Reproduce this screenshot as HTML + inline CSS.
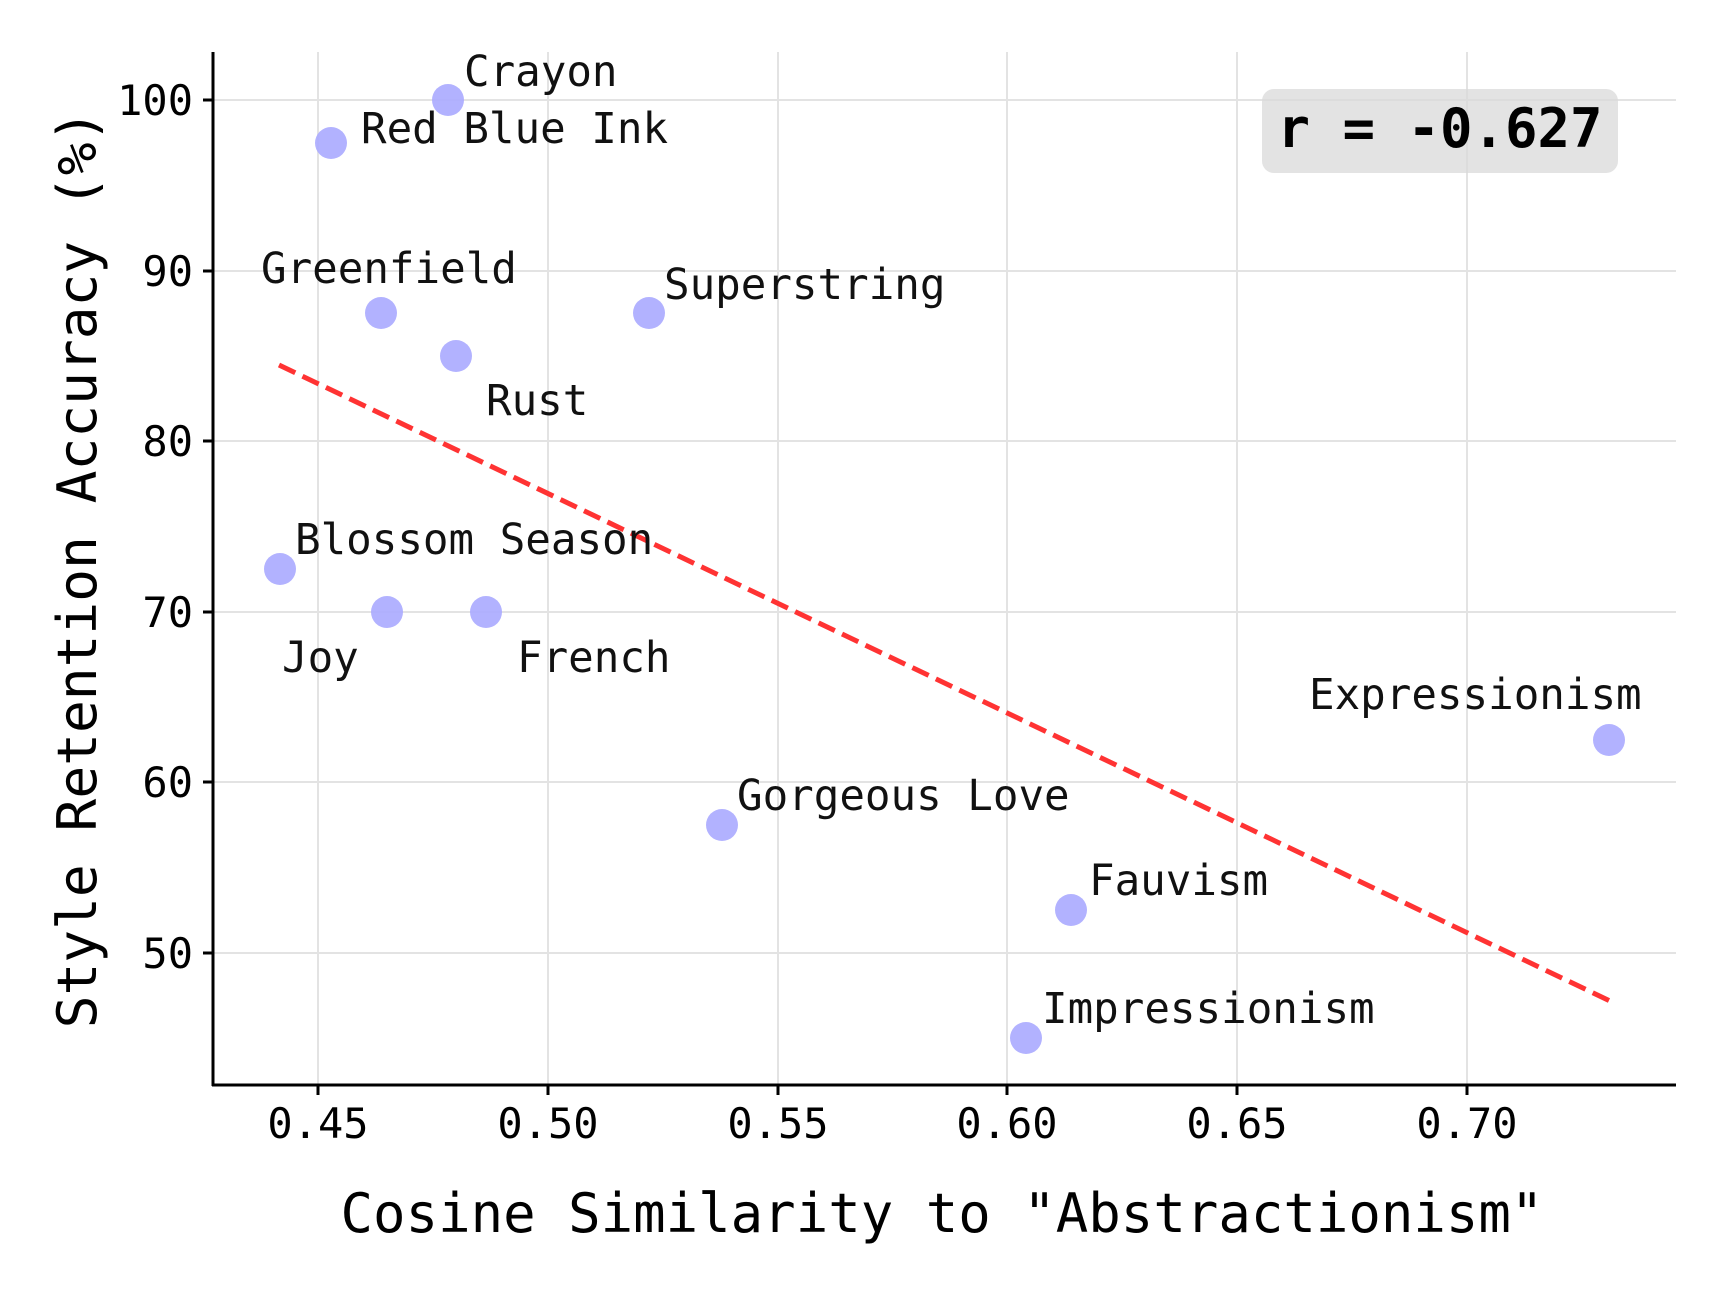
<!DOCTYPE html>
<html><head><meta charset="utf-8"><style>html,body{margin:0;padding:0;background:#fff}</style></head><body>
<svg width="1728" height="1296" viewBox="0 0 1728 1296" xmlns="http://www.w3.org/2000/svg" font-family="'DejaVu Sans Mono', 'Liberation Mono', monospace">
<rect width="1728" height="1296" fill="#fff"/>
<g stroke="#e3e3e3" stroke-width="2">
<line x1="318" y1="52" x2="318" y2="1085"/><line x1="548" y1="52" x2="548" y2="1085"/><line x1="778" y1="52" x2="778" y2="1085"/><line x1="1007" y1="52" x2="1007" y2="1085"/><line x1="1237" y1="52" x2="1237" y2="1085"/><line x1="1467" y1="52" x2="1467" y2="1085"/>
<line x1="213" y1="100" x2="1676" y2="100"/><line x1="213" y1="271" x2="1676" y2="271"/><line x1="213" y1="441" x2="1676" y2="441"/><line x1="213" y1="612" x2="1676" y2="612"/><line x1="213" y1="782" x2="1676" y2="782"/><line x1="213" y1="953" x2="1676" y2="953"/>
</g>
<rect x="1262" y="89" width="356" height="84" rx="12" fill="#d9d9d9" fill-opacity="0.75"/>
<text x="1440" y="147" font-size="54" font-weight="bold" text-anchor="middle">r = -0.627</text>
<line x1="279" y1="365" x2="1610" y2="1001" stroke="#ff3333" stroke-width="5" stroke-dasharray="18,8"/>
<g fill="#aaaaff" fill-opacity="0.9">
<circle cx="448" cy="100" r="16"/><circle cx="331" cy="143" r="16"/><circle cx="381" cy="313" r="16"/><circle cx="456" cy="356" r="16"/><circle cx="649" cy="313" r="16"/><circle cx="280" cy="569" r="16"/><circle cx="387" cy="612" r="16"/><circle cx="486" cy="612" r="16"/><circle cx="1609" cy="740" r="16"/><circle cx="722" cy="825" r="16"/><circle cx="1071" cy="910" r="16"/><circle cx="1026" cy="1038" r="16"/>
</g>
<g font-size="42.5" fill="#111">
<text x="464" y="86">Crayon</text><text x="361" y="143">Red Blue Ink</text><text x="261" y="283">Greenfield</text><text x="664" y="299">Superstring</text><text x="486" y="415">Rust</text><text x="295" y="554">Blossom Season</text><text x="282" y="672">Joy</text><text x="517" y="672">French</text><text x="1309" y="709">Expressionism</text><text x="737" y="810">Gorgeous Love</text><text x="1089" y="895">Fauvism</text><text x="1042" y="1023">Impressionism</text>
</g>
<g stroke="#000" stroke-width="3">
<line x1="213" y1="52" x2="213" y2="1086"/><line x1="212" y1="1085" x2="1676" y2="1085"/>
<line x1="318" y1="1085" x2="318" y2="1095"/><line x1="548" y1="1085" x2="548" y2="1095"/><line x1="778" y1="1085" x2="778" y2="1095"/><line x1="1007" y1="1085" x2="1007" y2="1095"/><line x1="1237" y1="1085" x2="1237" y2="1095"/><line x1="1467" y1="1085" x2="1467" y2="1095"/>
<line x1="203" y1="100" x2="213" y2="100"/><line x1="203" y1="271" x2="213" y2="271"/><line x1="203" y1="441" x2="213" y2="441"/><line x1="203" y1="612" x2="213" y2="612"/><line x1="203" y1="782" x2="213" y2="782"/><line x1="203" y1="953" x2="213" y2="953"/>
</g>
<g font-size="42" text-anchor="middle">
<text x="318" y="1138">0.45</text><text x="548" y="1138">0.50</text><text x="778" y="1138">0.55</text><text x="1007" y="1138">0.60</text><text x="1237" y="1138">0.65</text><text x="1467" y="1138">0.70</text>
</g>
<g font-size="42" text-anchor="end">
<text x="193" y="115">100</text><text x="193" y="286">90</text><text x="193" y="456">80</text><text x="193" y="627">70</text><text x="193" y="797">60</text><text x="193" y="968">50</text>
</g>
<text x="942" y="1232" font-size="54" text-anchor="middle">Cosine Similarity to "Abstractionism"</text>
<text transform="translate(96,569) rotate(-90)" font-size="54.5" text-anchor="middle">Style Retention Accuracy (%)</text>
</svg>
</body></html>
